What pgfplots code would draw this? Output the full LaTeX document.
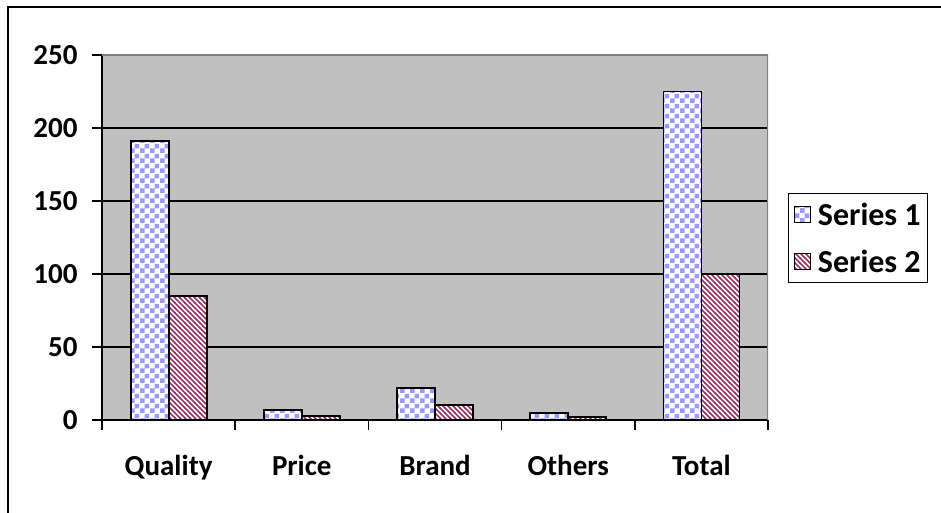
\documentclass[border=0pt]{standalone}
\usepackage{pgfplots}
\pgfplotsset{compat=1.18}
\usepackage{fontspec}
\setmainfont{Carlito}
\usetikzlibrary{patterns}
\definecolor{sone}{HTML}{9999FF}
\definecolor{stwo}{HTML}{993366}
\definecolor{plotbg}{HTML}{C0C0C0}
\definecolor{edgegray}{HTML}{808080}
\pgfdeclarepatternformonly{mychecker}{\pgfqpoint{0pt}{0pt}}{\pgfqpoint{10pt}{10pt}}{\pgfqpoint{10pt}{10pt}}{%
  \pgfpathrectangle{\pgfqpoint{0pt}{0pt}}{\pgfqpoint{5pt}{5pt}}%
  \pgfpathrectangle{\pgfqpoint{5pt}{5pt}}{\pgfqpoint{5pt}{5pt}}%
  \pgfusepath{fill}}
\pgfdeclarepatternformonly{mystripes}{\pgfqpoint{-1pt}{-1pt}}{\pgfqpoint{6pt}{6pt}}{\pgfqpoint{5pt}{5pt}}{%
  \pgfsetlinewidth{1.7pt}%
  \pgfpathmoveto{\pgfqpoint{-0.2pt}{5.2pt}}%
  \pgfpathlineto{\pgfqpoint{5.2pt}{-0.2pt}}%
  \pgfusepath{stroke}}
\newcommand{\chartfont}{\fontsize{29}{34}\selectfont\bfseries}
\newcommand{\legfont}{\fontsize{32}{36}\selectfont\bfseries}
\begin{document}
\begin{tikzpicture}[x=1pt,y=1pt]
\path[use as bounding box] (0,0) rectangle (941,513);
\draw[line width=2pt] (8,0) -- (8,506) -- (941,506);
\begin{axis}[
  at={(102pt,93pt)}, anchor=south west,
  scale only axis, width=666pt, height=365pt,
  xmin=-0.5, xmax=4.5, ymin=0, ymax=250,
  ybar=0pt, bar width=38pt,
  axis background/.style={fill=plotbg},
  axis x line*=bottom, axis y line*=left,
  axis line style={line width=1.5pt, black, -},
  ytick={0,50,...,250},
  ymajorgrids, grid style={line width=1.5pt, black},
  xtick={-0.5,0.5,...,4.5}, xticklabels={},
  extra x ticks={0,1,2,3,4},
  extra x tick labels={Quality,Price,Brand,Others,Total},
  extra x tick style={major tick length=0pt},
  tick align=outside, major tick length=10pt,
  tick style={line width=1.5pt, black},
  /pgf/number format/assume math mode=true,
  tick label style={font=\chartfont},
  xticklabel style={yshift=-32pt},
  yticklabel style={xshift=-11pt},
  legend style={at={(1.030,0.622)}, anchor=north west, draw=black, line width=1.5pt,
    font=\legfont, inner xsep=5pt, inner ysep=7pt, row sep=19pt,
    /tikz/every odd column/.append style={column sep=5pt}},
  legend cell align=left,
  legend image code/.code={\draw[#1, line width=1.2pt] (0pt,-8pt) rectangle (16pt,8pt);},
]
\addplot[draw=black, line width=1.8pt, fill=white, postaction={pattern=mychecker, pattern color=sone}]
  coordinates {(0,191) (1,7) (2,22) (3,5) (4,225)};
\addlegendentry{Series 1}
\addplot[draw=black, line width=1.8pt, fill=white, postaction={pattern=mystripes, pattern color=stwo}]
  coordinates {(0,85) (1,3) (2,10) (3,2) (4,100)};
\addlegendentry{Series 2}
\draw[edgegray, line width=1.5pt] (rel axis cs:0,1) -- (rel axis cs:1,1) -- (rel axis cs:1,0);
\end{axis}
\end{tikzpicture}
\end{document}
